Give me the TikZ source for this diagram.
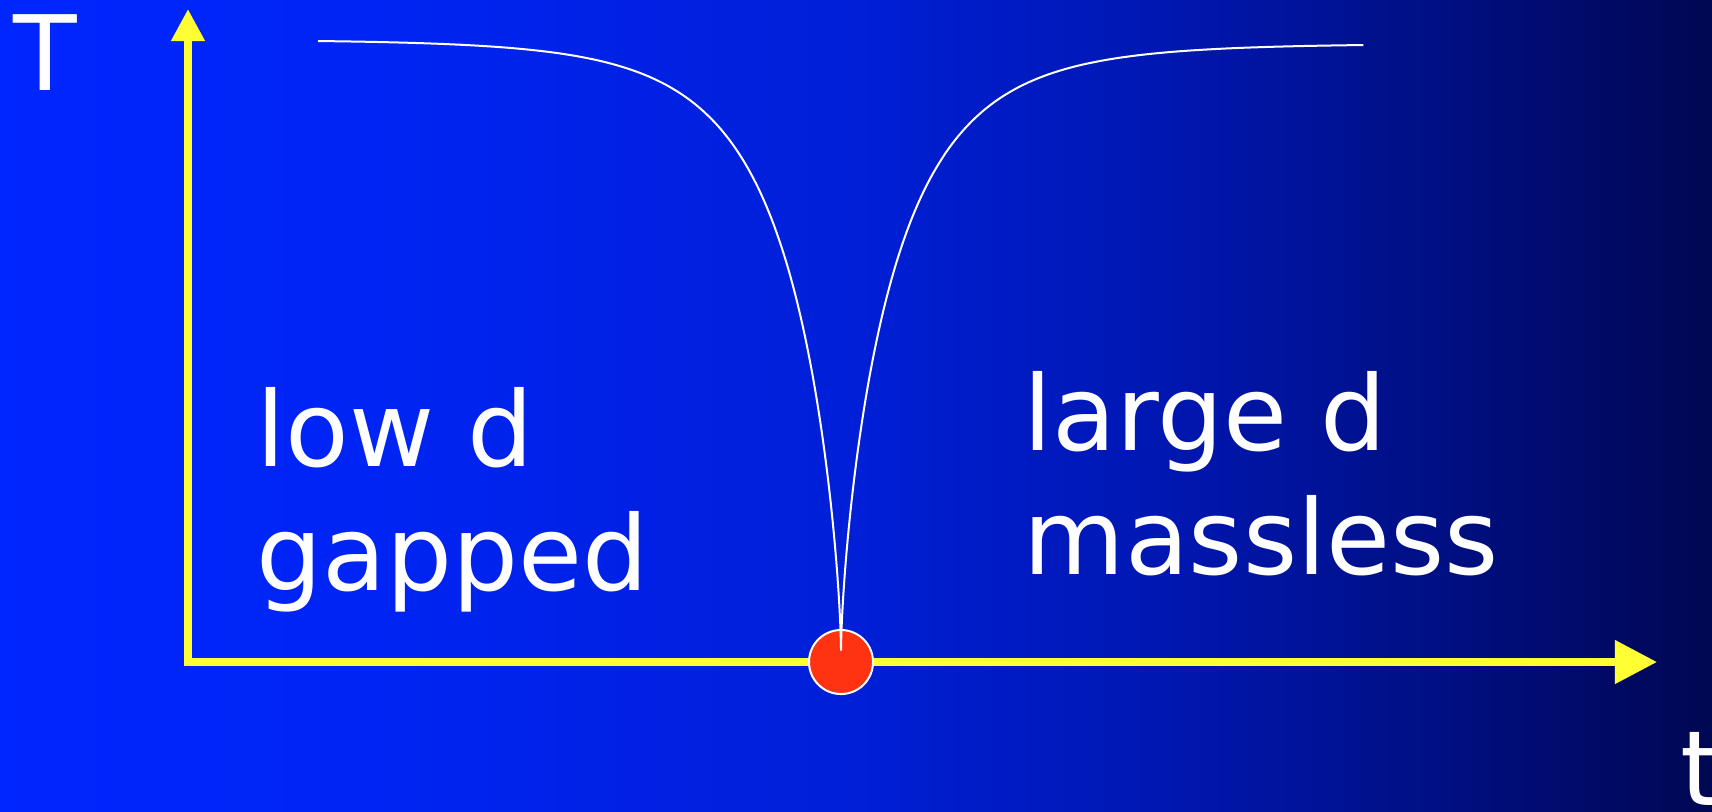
\documentclass[tikz,border=0pt]{standalone}
\usepackage{fontspec}
\setmainfont{DejaVu Sans}
\usetikzlibrary{arrows.meta}
\definecolor{axisyellow}{RGB}{255,255,51}
\definecolor{critred}{RGB}{255,51,17}
\definecolor{bgA}{RGB}{0,38,255}
\definecolor{bgB}{RGB}{0,36,243}
\definecolor{bgC}{RGB}{0,31,215}
\definecolor{bgD}{RGB}{0,22,172}
\definecolor{bgE}{RGB}{0,14,125}
\definecolor{bgF}{RGB}{0,7,82}
\pgfdeclarehorizontalshading{slidebg}{100bp}{color(0bp)=(bgA); color(25bp)=(bgA);
  color(36bp)=(bgB); color(50bp)=(bgC); color(60bp)=(bgD); color(68bp)=(bgE);
  color(75bp)=(bgF); color(100bp)=(bgF)}

\begin{document}
\begin{tikzpicture}[x=0.01cm,y=-0.01cm,
  lbl/.style={text=white,inner sep=0pt,anchor=base west,font=\fontsize{29.6}{35.3}\selectfont},
  axis/.style={axisyellow,line width=0.075cm},
  phase/.style={white,line width=0.02cm,line join=round},
  critpt/.style={circle,fill=critred,draw=white,line width=0.02cm,minimum size=0.64cm,inner sep=0pt}]
  \shade[shading=slidebg] (0,0) rectangle (1712,811);
  \useasboundingbox (0,0) rectangle (1712,811);
  \coordinate (o) at (188,662);
  \coordinate (ytip) at (188,9);
  \coordinate (xtip) at (1657,662);
  \draw[axis,arrows={Triangle[length=0.32cm,width=0.32cm]-Triangle[length=0.42cm,width=0.42cm]}] (ytip) -- (o) -- (xtip);
  \node[critpt] (qcp) at (841,662) {};
  % crossover lines meeting at the critical point
  \draw[phase] plot[domain=1:0,samples=160] ({841-523*\x*\x*\x},{650-609*tanh(3.38*\x*\x)/tanh(3.38)})
    -- plot[domain=0:1,samples=160] ({841+523*\x*\x*\x},{650-605*tanh(3.38*\x*\x)/tanh(3.38)});
  \node[lbl] (tempT) at (13,90) {T};
  \node[lbl] (lowd) at (256,466) {low d};
  \node[lbl] (gapped) at (256,590) {gapped};
  \node[lbl] (larged) at (1023,450) {large d};
  \node[lbl] (massless) at (1023,574) {massless};
  \node[lbl] (tpar) at (1680,805) {t};
\end{tikzpicture}
\end{document}
